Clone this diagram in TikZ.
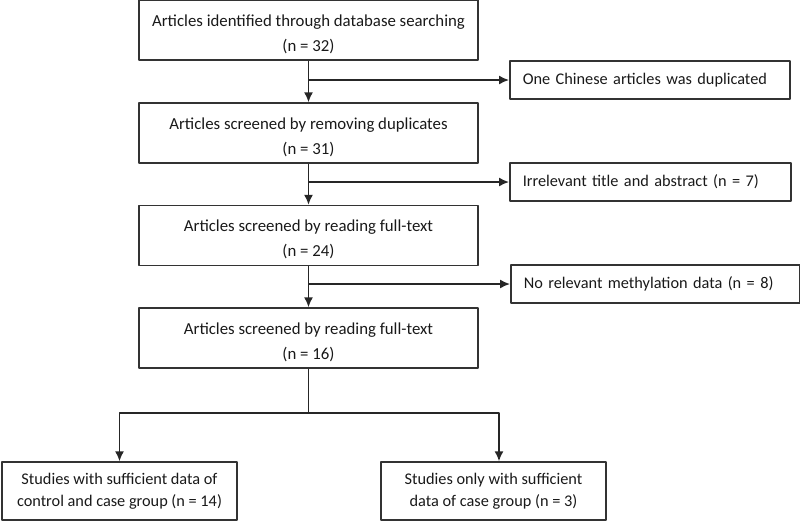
\documentclass[tikz,border=0pt]{standalone}
\usepackage{fontspec}
\setmainfont{Carlito}
\usepackage{tikz}
\usetikzlibrary{positioning}
\usetikzlibrary{arrows.meta}

\begin{document}
\begin{tikzpicture}[>={Latex[length=5pt,width=4.5pt]},line join=bevel,x=0.5pt,y=-0.5pt,
    mainbox/.style={draw=black!80,line width=0.75pt,rectangle,minimum width=169.5pt,minimum height=30pt,inner sep=0pt,align=center,text=black!90,font=\fontsize{8.4}{12.6}\selectfont},
    sidebox/.style={draw=black!80,line width=0.75pt,rectangle,minimum height=19pt,inner xsep=6.5pt,inner ysep=0pt,align=left,text=black!90,font=\fontsize{8.15}{11}\selectfont},
    endbox/.style={draw=black!80,line width=0.75pt,rectangle,minimum height=29pt,inner sep=0pt,align=center,text=black!90,font=\fontsize{8.15}{11}\selectfont},
    flow/.style={color=black!85,line width=0.75pt}]
            %
            \useasboundingbox (0,0) rectangle (800,521);
            %
            \node (identified) at (308.5,30) [mainbox] {\rule{0pt}{10pt}Articles identified through database searching\\(n = 32)};
            \node (removing) at (308.5,133) [mainbox] {\rule{0pt}{10pt}Articles screened by removing duplicates\\(n = 31)};
            \node (fulltext) at (308.5,235.5) [mainbox] {\rule{0pt}{10pt}Articles screened by reading full-text\\(n = 24)};
            \node (included) at (308.5,338) [mainbox] {\rule{0pt}{10pt}Articles screened by reading full-text\\(n = 16)};
            %
            \node (duplicated) at (509,80) [sidebox,anchor=west,text width=127pt] {One Chinese articles was duplicated};
            \node (irrelevant) at (509,182) [sidebox,anchor=west,text width=127.5pt] {Irrelevant title and abstract (n = 7)};
            \node (nodata) at (510,284) [sidebox,anchor=west,text width=131.5pt] {No relevant methylation data (n = 8)};
            %
            \node (control) at (119.5,491) [endbox,minimum width=117.5pt] {Studies with sufficient data of\\control and case group (n = 14)};
            \node (caseonly) at (493.5,491) [endbox,minimum width=112.5pt] {Studies only with sufficient\\data of case group (n = 3)};
            %
            \draw [flow,->] (identified) -- (removing);
            \draw [flow,->] (removing) -- (fulltext);
            \draw [flow,->] (fulltext) -- (included);
            %
            \draw [flow,->] (identified.south |- duplicated.west) -- (duplicated.west);
            \draw [flow,->] (removing.south |- irrelevant.west) -- (irrelevant.west);
            \draw [flow,->] (fulltext.south |- nodata.west) -- (nodata.west);
            %
            \coordinate (split) at (308.5,413);
            \draw [flow] (included) -- (split);
            \draw [flow,->] (split) -| (control.north);
            \draw [flow,->] (split) -| ([xshift=2.75pt]caseonly.north);
            %
        \end{tikzpicture}
\end{document}
